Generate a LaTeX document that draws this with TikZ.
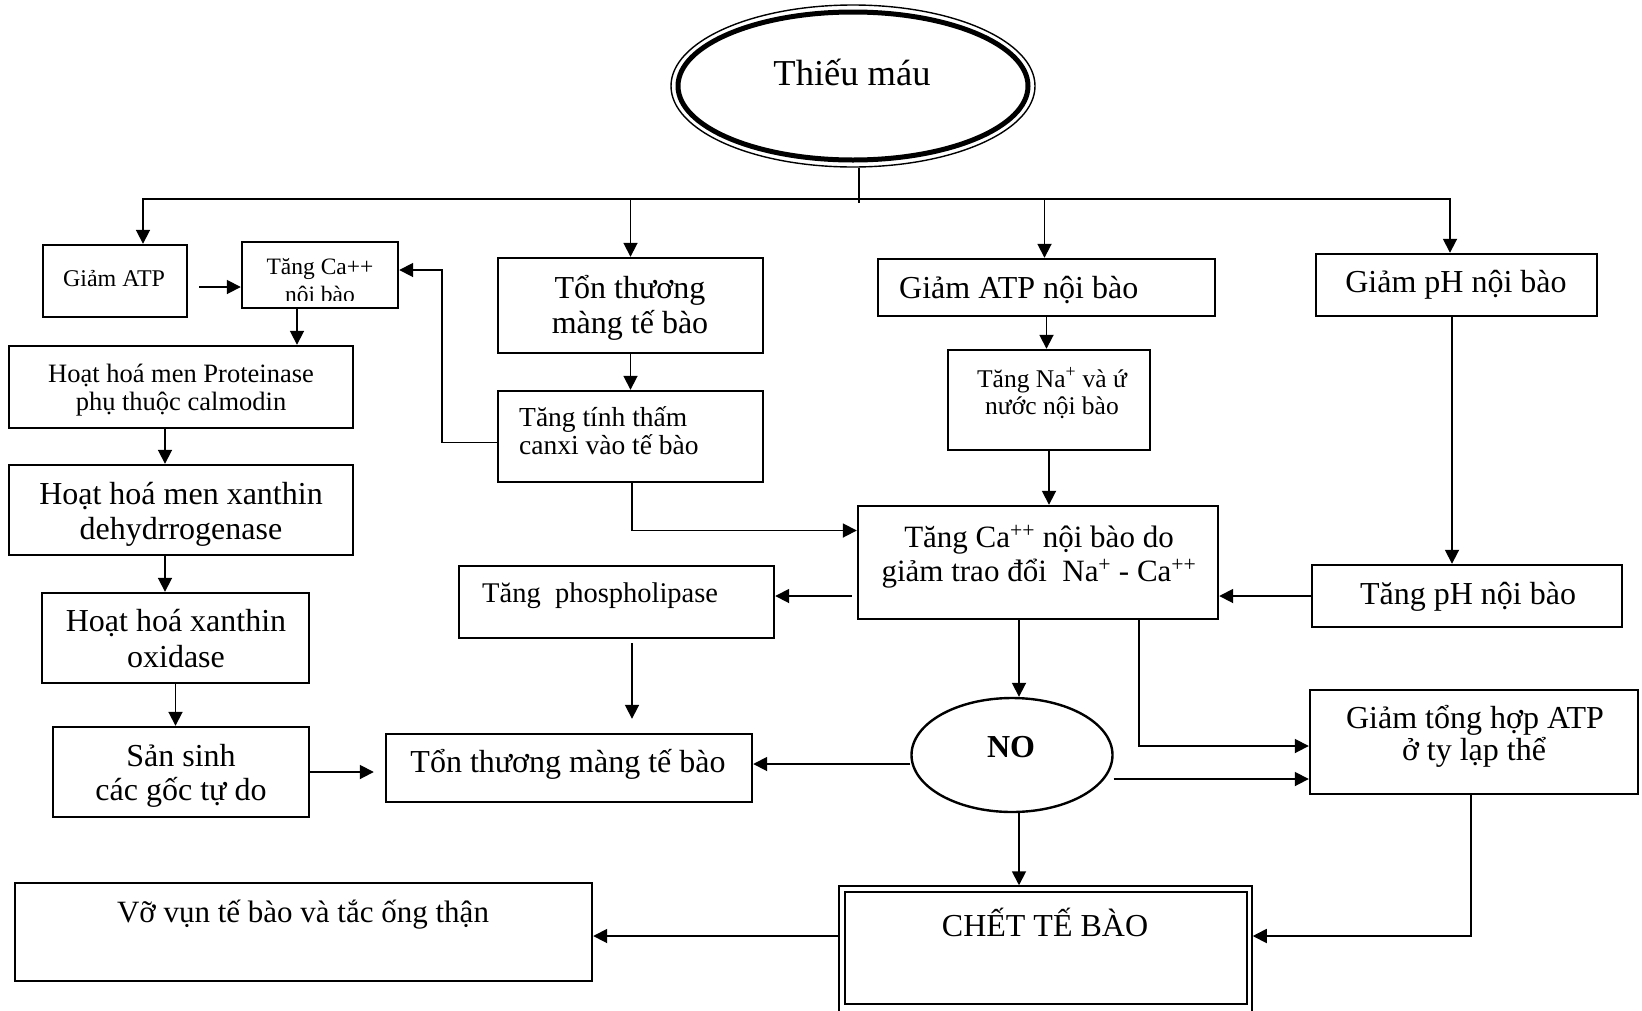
\documentclass[tikz,border=0pt]{standalone}
\usepackage{fontspec}
\setmainfont{Liberation Serif}
\usetikzlibrary{arrows.meta,shapes.geometric,fit}
\newcommand{\fsz}[1]{\fontsize{#1pt}{#1pt}\selectfont}
\begin{document}
\begin{tikzpicture}[x=1pt,y=-1pt,
  box/.style={draw, line width=2.4pt, inner sep=0pt},
  conn/.style={line width=1.8pt},
  arr/.style={conn, -{Triangle[length=14pt,width=14pt]}},
  lbl/.style={anchor=base, inner sep=0pt},
  lblw/.style={anchor=base west, inner sep=0pt},
]
\fill[white] (0,0) rectangle (1642,1010);
\useasboundingbox (0,0) rectangle (1642,1010);

% ---- root: ellipse with a thin outer rim and a thick inner rim
\node[draw, ellipse, line width=1.4pt, minimum width=364pt, minimum height=162pt, inner sep=0pt] (thieu) at (853,86) {};
\draw[line width=5pt] (thieu.center) ellipse [x radius=175pt, y radius=74pt];
\node[lbl, font=\fsz{36.5}] (thieu-t) at (852,85) {Thiếu máu};

% ---- boxes
\node[box, fit={(43,245) (187,317)}] (gatp) {};
\node[box, fit={(242,242) (398,308)}] (tca) {};
\node[box, fit={(9,346) (353,428)}] (prot) {};
\node[box, fit={(9,465) (353,555)}] (xdh) {};
\node[box, fit={(42,593) (309,683)}] (xo) {};
\node[box, fit={(53,727) (309,817)}] (ss) {};
\node[box, fit={(498,258) (763,353)}] (tonth) {};
\node[box, fit={(498,391) (763,482)}] (ttt) {};
\node[box, fit={(878,259) (1215,316)}] (gatpn) {};
\node[box, fit={(948,350) (1150,450)}] (tna) {};
\node[box, fit={(1316,254) (1597,316)}] (gph) {};
\node[box, fit={(858,506) (1218,619)}] (tcad) {};
\node[box, fit={(459,566) (774,638)}] (phos) {};
\node[box, fit={(1312,565) (1622,627)}] (tph) {};
\node[box, fit={(1310,690) (1638,794)}] (gth) {};
\node[box, fit={(386,734) (752,802)}] (tm) {};
\node[box, fit={(15,883) (592,981)}] (vv) {};
\node[draw, ellipse, line width=2.4pt, minimum width=201pt, minimum height=114pt, inner sep=0pt] (no) at (1012,755) {};
% cell death: double frame, thin outside, thick inside
\node[draw, line width=1.5pt, inner sep=0pt, fit={(839,886) (1252,1012)}] (chet) {};
\draw[line width=2.8pt] (845,892) rectangle (1247,1004);

% ---- labels
\node[lbl, font=\fsz{24}] (gatp-t) at (114,286) {Giảm ATP};
\begin{scope}
  % the second line runs past the text frame and is cut off
  \clip (243,243) rectangle (397,300.5);
  \node[lbl, font=\fsz{23.5}] (tca-t1) at (320,274) {Tăng Ca++};
  \node[lbl, font=\fsz{23.5}] (tca-t2) at (320,302) {nội bào};
\end{scope}
\node[lbl, font=\fsz{26.5}] (prot-t1) at (181,382) {Hoạt hoá men Proteinase};
\node[lbl, font=\fsz{26.5}] (prot-t2) at (181,410) {phụ thuộc calmodin};
\node[lbl, font=\fsz{32}] (xdh-t1) at (181,504) {Hoạt hoá men xanthin};
\node[lbl, font=\fsz{32}] (xdh-t2) at (181,539) {dehydrrogenase};
\node[lbl, font=\fsz{32}] (xo-t1) at (176,631) {Hoạt hoá xanthin};
\node[lbl, font=\fsz{32}] (xo-t2) at (176,667) {oxidase};
\node[lbl, font=\fsz{32}] (ss-t1) at (181,766) {Sản sinh};
\node[lbl, font=\fsz{32}] (ss-t2) at (181,800) {các gốc tự do};
\node[lbl, font=\fsz{32}] (tonth-t1) at (630,298) {Tổn thương};
\node[lbl, font=\fsz{32}] (tonth-t2) at (630,333) {màng tế bào};
\node[lblw, font=\fsz{27.5}] (ttt-t1) at (519,426) {Tăng tính thấm};
\node[lblw, font=\fsz{27.5}] (ttt-t2) at (519,454) {canxi vào tế bào};
\node[lblw, font=\fsz{32}] (gatpn-t) at (899,298) {Giảm ATP nội bào};
\node[lbl, font=\fsz{25.5}] (tna-t1) at (1052,387) {Tăng Na\textsuperscript{+} và ứ};
\node[lbl, font=\fsz{25.5}] (tna-t2) at (1052,414) {nước nội bào};
\node[lbl, font=\fsz{32}] (gph-t) at (1456,292) {Giảm pH nội bào};
\node[lbl, font=\fsz{31}] (tcad-t1) at (1039,547) {Tăng Ca\textsuperscript{++} nội bào do};
\node[lbl, font=\fsz{31}] (tcad-t2) at (1039,581) {giảm trao đổi\ \ Na\textsuperscript{+} - Ca\textsuperscript{++}};
\node[lblw, font=\fsz{28.5}] (phos-t) at (482,602) {Tăng\ \ phospholipase};
\node[lbl, font=\fsz{32}] (tph-t) at (1468,604) {Tăng pH nội bào};
\node[lbl, font=\fsz{32}] (gth-t1) at (1475,728) {Giảm tổng hợp ATP};
\node[lbl, font=\fsz{32}] (gth-t2) at (1474,760) {ở ty lạp thể};
\node[lbl, font=\fsz{32}] (tm-t) at (568,772) {Tổn thương màng tế bào};
\node[lbl, font=\fsz{32}\bfseries] (no-t) at (1011,757) {NO};
\node[lbl, font=\fsz{31}] (vv-t) at (303,922) {Vỡ vụn tế bào và tắc ống thận};
\node[lbl, font=\fsz{32}] (chet-t) at (1045,936) {CHẾT TẾ BÀO};

% ---- distribution bus from the root
\coordinate (b1) at (143,199);
\coordinate (b4) at (1450,199);
\draw[conn] ([xshift=6pt]thieu.south) -- ++(0,35);
\draw[arr] (b4) -- (b1) -- (b1 |- gatp.north);
\draw[arr] (b1) -- (b4) -- (b4 |- gph.north);
\draw[arr] (tonth.north |- b1) -- (tonth.north);
\draw[arr] ([xshift=-2pt]gatpn.north |- b1) -- ([xshift=-2pt]gatpn.north);

% ---- left column
\path ([xshift=11pt,yshift=-6pt]gatp.east) coordinate (g1);
\draw[arr] (g1) -- (g1 -| tca.west);
\draw[arr] ([xshift=-23pt]tca.south) -- ([xshift=-23pt]tca.south |- prot.north);
\draw[arr] ([xshift=-16pt]prot.south) -- ([xshift=-16pt]prot.south |- xdh.north);
\draw[arr] ([xshift=-16pt]xdh.south) -- ([xshift=-16pt]xdh.south |- xo.north);
\draw[arr] (xo.south) -- (xo.south |- ss.north);
\draw[arr] (ss.east) -- ([xshift=-11pt]tm.west |- ss.east);

% ---- membrane branch
\draw[arr] (tonth.south) -- (ttt.north);
\coordinate (k1) at (442,270);
\draw[arr] ([yshift=-6pt]ttt.west) -| (k1) -- (k1 -| tca.east);
\draw[arr] ([xshift=1.5pt]ttt.south) |- ([yshift=32pt]tcad.west);

% ---- ATP / pH branches
\draw[arr] (gatpn.south) -- (gatpn.south |- tna.north);
\draw[arr] (tna.south) -- (tna.south |- tcad.north);
\draw[arr] ([xshift=-4.5pt]gph.south) -- ([xshift=-4.5pt]gph.south |- tph.north);
\draw[arr] (tph.west) -- (tph.west -| tcad.east);

% ---- from calcium overload
\path ([xshift=-5pt]tcad.west |- tph.west) coordinate (c1);
\draw[arr] (c1) -- (c1 -| phos.east);
\draw[arr] ([xshift=15.5pt,yshift=-4pt]phos.south) -- ([xshift=15.5pt,yshift=14pt]phos.south |- tm.north);
\draw[arr] ([xshift=-19pt]tcad.south) -- ([xshift=-19pt]tcad.south |- no.north);
\draw[arr] ([xshift=101pt]tcad.south) |- ([yshift=-4pt]gth.west);

% ---- from NO
\path (no.west) ++(0,9) coordinate (n1);
\draw[arr] (n1) -- (n1 -| tm.east);
\path (no.east) ++(0,24) coordinate (n2);
\draw[arr] (n2) -- (n2 -| gth.west);
\draw[arr] ([xshift=7pt]no.south) -- ([xshift=7pt]no.south |- chet.north);

% ---- towards cell death
\draw[arr] ([xshift=-3pt]gth.south) |- ([yshift=13pt]chet.east);
\draw[arr] ([yshift=13pt]chet.west) -- ([yshift=13pt]chet.west -| vv.east);
\end{tikzpicture}
\end{document}
